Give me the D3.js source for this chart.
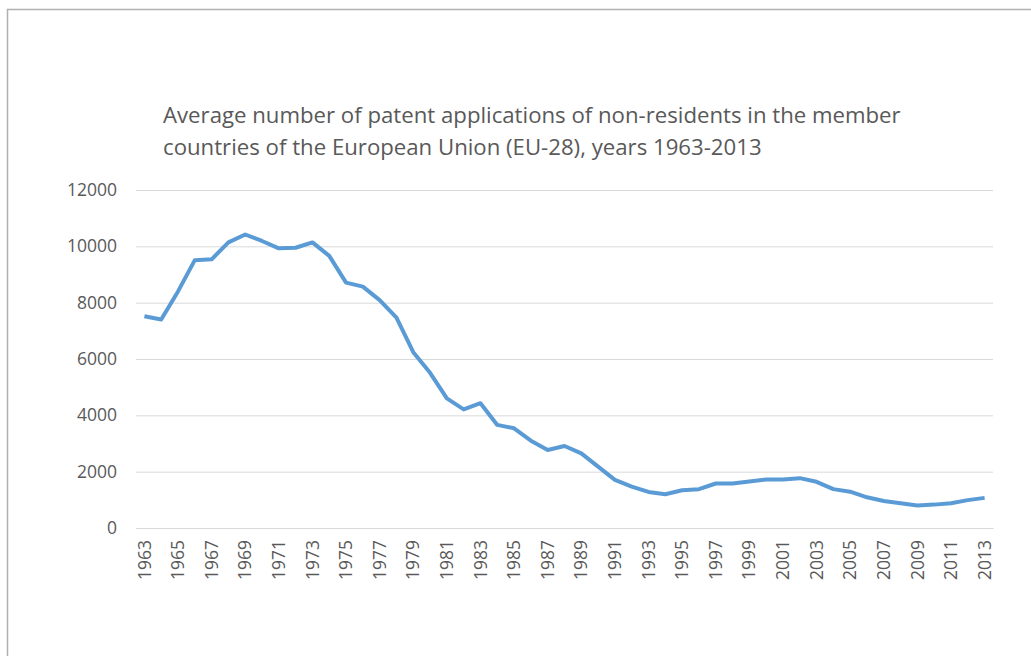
<!DOCTYPE html>
<html lang="en">
<head>
  <meta charset="UTF-8">
  <title>Patent applications EU-28</title>
  <script src="https://d3js.org/d3.v7.min.js"></script>
  <style>
    body { margin: 0; background: #fff; }
    svg, svg text { font-family: "Open Sans", Lato, sans-serif; }
    .tick text { fill: #595959; }
  </style>
</head>
<body>
  <svg></svg>
  <script>
    const years = d3.range(1963, 2014);
    const applications = [
      7520, 7400, 8400, 9510, 9540, 10140, 10420, 10190, 9930, 9950,
      10140, 9660, 8710, 8570, 8090, 7470, 6240, 5510, 4600, 4210,
      4430, 3660, 3540, 3100, 2770, 2910, 2650, 2180, 1710, 1470,
      1280, 1200, 1340, 1380, 1580, 1580, 1650, 1720, 1720, 1770,
      1640, 1380, 1290, 1090, 960, 880, 800, 830, 880, 990, 1070
    ];
    const yTicks = [0, 2000, 4000, 6000, 8000, 10000, 12000];
    const titleLines = [
      'Average number of patent applications of non-residents in the member',
      'countries of the European Union (EU-28), years 1963-2013'
    ];

    const W = 1031, H = 656;
    const margin = { top: 190, right: 38, bottom: 128, left: 136 };
    const width = W - margin.left - margin.right;
    const height = H - margin.top - margin.bottom;

    const root = d3.select('svg').attr('width', W).attr('height', H);

    // chart frame
    root.append('rect')
      .attr('x', 7.5).attr('y', 9.5)
      .attr('width', W).attr('height', H)
      .attr('fill', 'none').attr('stroke', '#b0b0b0').attr('stroke-width', 1.5);

    root.append('text')
      .attr('x', 163).attr('y', 123)
      .attr('fill', '#595959')
      .attr('font-size', '22.2px')
      .selectAll('tspan')
      .data(titleLines)
      .enter().append('tspan')
      .attr('x', 163)
      .attr('dy', (d, i) => i === 0 ? 0 : 32)
      .text(d => d);

    const svg = root.append('g')
      .attr('transform', `translate(${margin.left},${margin.top})`);

    const x = d3.scaleBand().domain(years).range([0, width]);
    const y = d3.scaleLinear().domain([0, 12000]).range([height, 0]);

    // gridlines + y labels
    const yAxis = svg.append('g')
      .call(d3.axisLeft(y).tickValues(yTicks).tickSize(-width).tickPadding(19).tickFormat(d3.format('d')));
    yAxis.select('.domain').remove();
    yAxis.selectAll('.tick line').attr('stroke', '#d9d9d9');
    yAxis.selectAll('.tick text').attr('font-size', '17.5px');

    // x axis
    const xAxis = svg.append('g')
      .attr('transform', `translate(0,${height})`)
      .call(d3.axisBottom(x).tickValues(years.filter((d, i) => i % 2 === 0)).tickSize(0));
    xAxis.select('.domain').attr('stroke', '#d9d9d9');
    xAxis.selectAll('.tick text')
      .attr('font-size', '17.5px')
      .attr('transform', 'rotate(-90)')
      .attr('text-anchor', 'end')
      .attr('x', -12)
      .attr('y', 0)
      .attr('dy', '0.35em');

    const line = d3.line()
      .x((d, i) => x(years[i]) + x.bandwidth() / 2)
      .y(d => y(d));

    svg.append('path')
      .datum(applications)
      .attr('fill', 'none')
      .attr('stroke', '#5b9bd5')
      .attr('stroke-width', 4)
      .attr('stroke-linejoin', 'round')
      .attr('d', line);
  </script>
</body>
</html>
